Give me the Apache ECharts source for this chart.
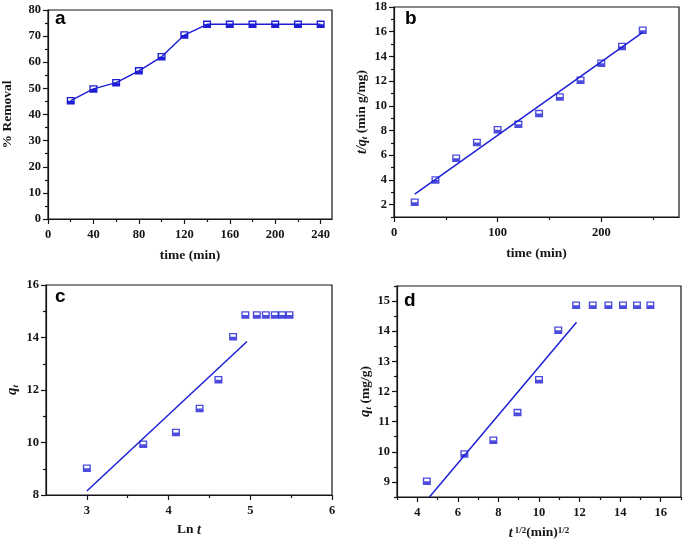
<!DOCTYPE html>
<html><head><meta charset="utf-8">
<script src="https://cdn.jsdelivr.net/npm/echarts@6/dist/echarts.min.js"></script>
<style>html,body{margin:0;padding:0;background:#fff}#c{width:685px;height:546px}</style>
</head><body><div id="c"></div>
<script>
// ---- data ----
const timeMin = [20, 40, 60, 80, 100, 120, 140, 160, 180, 200, 220, 240];
const removalPct = [45.3, 49.8, 52.2, 56.7, 62.1, 70.4, 74.5, 74.5, 74.5, 74.5, 74.5, 74.5];
const tOverQt = [2.19, 4.0, 5.76, 7.04, 8.07, 8.5, 9.37, 10.72, 12.08, 13.44, 14.8, 16.12];
const lnT = [3.00, 3.69, 4.09, 4.38, 4.61, 4.79, 4.94, 5.08, 5.19, 5.30, 5.39, 5.48];
const sqrtT = [4.47, 6.32, 7.75, 8.94, 10.0, 10.95, 11.83, 12.65, 13.42, 14.14, 14.83, 15.49];
const qt = [9.02, 9.93, 10.38, 11.3, 12.39, 14.03, 14.86, 14.86, 14.86, 14.86, 14.86, 14.86];
const fitB = [[20, 2.85], [240, 15.95]];
const fitC = [[3.0, 8.15], [4.96, 13.85]];
const fitD = [[4.6, 8.5], [11.85, 14.3]];

// tick values
const aXMajor = [0, 40, 80, 120, 160, 200, 240], aXMinor = [20, 60, 100, 140, 180, 220];
const aYMajor = [0, 10, 20, 30, 40, 50, 60, 70, 80], aYMinor = [5, 15, 25, 35, 45, 55, 65, 75];
const bXMajor = [0, 100, 200], bXMinor = [50, 150, 250];
const bYMajor = [2, 4, 6, 8, 10, 12, 14, 16, 18], bYMinor = [1, 3, 5, 7, 9, 11, 13, 15, 17];
const cXMajor = [3, 4, 5, 6], cXMinor = [3.5, 4.5, 5.5];
const cYMajor = [8, 10, 12, 14, 16], cYMinor = [9, 11, 13, 15];
const dXMajor = [4, 6, 8, 10, 12, 14, 16], dXMinor = [3, 5, 7, 9, 11, 13, 15, 17];
const dYMajor = [9, 10, 11, 12, 13, 14, 15], dYMinor = [8.5, 9.5, 10.5, 11.5, 12.5, 13.5, 14.5, 15.5];

const BLUE = '#1e1ed6';
const INK = '#151515';
const SERIF = '"Liberation Serif", "Times New Roman", serif';
const MARK = 'path://M0,0H10V10H0Z M1.7,1.7V5H8.3V1.7Z';

const xAxes = [], yAxes = [];
function addAxes(list, grid, pos, min, max, majors, minors, name, gap, rich) {
  const idx = list.length;
  list.push({
    gridIndex: grid, type: 'value', position: pos, min: min, max: max,
    axisLine: { show: true, onZero: false, lineStyle: { color: INK, width: 1.2 } },
    axisTick: { show: true, inside: false, length: 5, customValues: majors, lineStyle: { color: INK, width: 1.2 } },
    axisLabel: { customValues: majors, fontFamily: SERIF, fontWeight: 'bold', fontSize: 12.5, color: INK, margin: pos === 'left' ? 7 : 9 },
    splitLine: { show: false },
    name: name, nameLocation: 'middle', nameGap: gap,
    nameTextStyle: { fontFamily: SERIF, fontWeight: 'bold', fontSize: 13.5, color: INK, rich: rich || {} }
  });
  list.push({
    gridIndex: grid, type: 'value', position: pos, min: min, max: max,
    axisLine: { show: false },
    axisTick: { show: true, inside: false, length: 3, customValues: minors, lineStyle: { color: INK, width: 1.2 } },
    axisLabel: { show: false }, splitLine: { show: false }
  });
  return idx;
}
const it = { fontFamily: SERIF, fontWeight: 'bold', fontStyle: 'italic', fontSize: 14, color: INK };
const nb = { fontFamily: SERIF, fontWeight: 'bold', fontSize: 13.5, color: INK };
const sub = { fontFamily: SERIF, fontWeight: 'bold', fontStyle: 'italic', fontSize: 9, color: INK, verticalAlign: 'bottom' };
const sup = { fontFamily: SERIF, fontWeight: 'bold', fontSize: 9, color: INK, verticalAlign: 'top' };
const bigQ = { fontFamily: SERIF, fontWeight: 'bold', fontStyle: 'italic', fontSize: 15, color: INK };

// grid a
const ax = addAxes(xAxes, 0, 'bottom', 0, 250, aXMajor, aXMinor, 'time (min)', 30);
const ay = addAxes(yAxes, 0, 'left', 0, 80, aYMajor, aYMinor, '% Removal', 33);
// grid b
const bx = addAxes(xAxes, 1, 'bottom', 0, 275, bXMajor, bXMinor, 'time (min)', 30);
const by = addAxes(yAxes, 1, 'left', 1, 18, bYMajor, bYMinor, '{i|t/q}{s|t}{n| (min g/mg)}', 25, { i: it, s: sub, n: nb });
// grid c
const cx = addAxes(xAxes, 2, 'bottom', 2.5, 6, cXMajor, cXMinor, '{n|Ln }{i|t}', 28, { i: it, n: nb });
const cy = addAxes(yAxes, 2, 'left', 8, 16, cYMajor, cYMinor, '{q|q}{s|t}', 26, { q: bigQ, s: sub });
// grid d
const dx = addAxes(xAxes, 3, 'bottom', 3, 17, dXMajor, dXMinor, '{i|t}{p| 1/2}{n|(min)}{p|1/2}', 29, { i: it, n: nb, p: sup });
const dy = addAxes(yAxes, 3, 'left', 8.5, 15.5, dYMajor, dYMinor, '{q|q}{s|t}{n| (mg/g)}', 24, { q: bigQ, s: sub, n: nb });

const zip = (xs, ys) => xs.map((x, i) => [x, ys[i]]);
const markerStyle = { symbol: MARK, symbolSize: [8, 7.5], symbolKeepAspect: false, itemStyle: { color: BLUE } };

const option = {
  animation: false,
  backgroundColor: '#fff',
  grid: [
    { left: 48, top: 10, width: 284, height: 209, show: true, borderColor: INK, borderWidth: 1.2 },
    { left: 394, top: 7, width: 285, height: 210, show: true, borderColor: INK, borderWidth: 1.2 },
    { left: 46, top: 285, width: 286, height: 210, show: true, borderColor: INK, borderWidth: 1.2 },
    { left: 397, top: 286, width: 284, height: 211, show: true, borderColor: INK, borderWidth: 1.2 }
  ],
  title: [
    { text: 'a', left: 55, top: 9 }, { text: 'b', left: 405, top: 9 },
    { text: 'c', left: 55, top: 287 }, { text: 'd', left: 404, top: 291 }
  ].map(t => Object.assign(t, { padding: 0, textStyle: { fontFamily: '"Liberation Sans", Arial, sans-serif', fontWeight: 'bold', fontSize: 19, color: '#000' } })),
  xAxis: xAxes,
  yAxis: yAxes,
  series: [
    Object.assign({ type: 'line', xAxisIndex: ax, yAxisIndex: ay, data: zip(timeMin, removalPct), lineStyle: { color: BLUE, width: 1.5 }, showSymbol: true }, markerStyle),
    { type: 'line', xAxisIndex: bx, yAxisIndex: by, data: fitB, symbol: 'none', lineStyle: { color: BLUE, width: 1.5 } },
    Object.assign({ type: 'scatter', xAxisIndex: bx, yAxisIndex: by, data: zip(timeMin, tOverQt) }, markerStyle),
    { type: 'line', xAxisIndex: cx, yAxisIndex: cy, data: fitC, symbol: 'none', lineStyle: { color: BLUE, width: 1.5 } },
    Object.assign({ type: 'scatter', xAxisIndex: cx, yAxisIndex: cy, data: zip(lnT, qt) }, markerStyle),
    { type: 'line', xAxisIndex: dx, yAxisIndex: dy, data: fitD, symbol: 'none', lineStyle: { color: BLUE, width: 1.5 } },
    Object.assign({ type: 'scatter', xAxisIndex: dx, yAxisIndex: dy, data: zip(sqrtT, qt) }, markerStyle)
  ]
};
const chart = echarts.init(document.getElementById('c'), null, { renderer: 'canvas' });
chart.setOption(option);
</script>
</body></html>
